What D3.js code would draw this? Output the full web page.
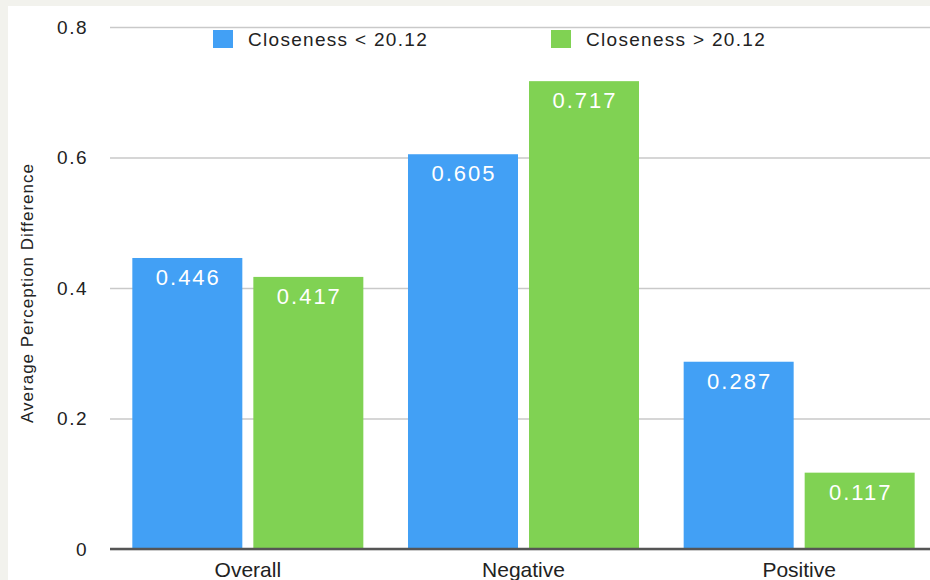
<!DOCTYPE html>
<html>
<head>
<meta charset="utf-8">
<script src="https://cdn.jsdelivr.net/npm/d3@7"></script>
<style>
  html, body { margin: 0; padding: 0; background: #f2f2ed; }
  svg { display: block; }
  text { font-family: "Liberation Sans", Arial, Helvetica, sans-serif; }
</style>
</head>
<body>
<script>
// Chart data
const categories = ["Overall", "Negative", "Positive"];
const seriesNames = ["Closeness < 20.12", "Closeness > 20.12"];
const lowCloseness = [0.446, 0.605, 0.287];
const highCloseness = [0.417, 0.717, 0.117];
const yTicks = [0, 0.2, 0.4, 0.6, 0.8];
const yTitle = "Average Perception Difference";

const colors = ["#42a0f5", "#80d253"];
const W = 930, H = 580;

const svg = d3.select("body").append("svg")
  .attr("width", W).attr("height", H);

// white panel
svg.append("rect").attr("x", 8).attr("y", 6)
  .attr("width", W - 8).attr("height", H - 6).attr("fill", "#ffffff");

const y = d3.scaleLinear().domain([0, 0.8]).range([549, 27]);
const x0 = d3.scaleBand().domain(categories).range([110, 937])
  .paddingInner(0.162).paddingOuter(0.081);
const x1 = d3.scaleBand().domain(seriesNames).range([0, x0.bandwidth()])
  .paddingInner(0.091);

// gridlines and tick labels
const yAxis = d3.axisLeft(y).tickValues(yTicks)
  .tickSize(-(W - 110))
  .tickFormat(d => d === 0 ? "0" : d3.format(".1f")(d));
const gy = svg.append("g").attr("transform", "translate(110,0)").call(yAxis);
gy.select(".domain").remove();
gy.selectAll(".tick line").attr("stroke", "#c9c9c9").attr("stroke-width", 1.5);
gy.selectAll(".tick text").attr("x", -22).attr("fill", "#222")
  .style("font-size", "19px").style("letter-spacing", "1.5px");

// y-axis title
svg.append("text")
  .attr("transform", `translate(33,${(27 + 549) / 2 + 5}) rotate(-90)`)
  .attr("text-anchor", "middle").attr("fill", "#222")
  .style("font-size", "17px").style("letter-spacing", "1px").text(yTitle);

const rows = categories.map((c, i) => ({
  cat: c,
  vals: [lowCloseness[i], highCloseness[i]]
}));

const groups = svg.append("g").selectAll("g").data(rows).join("g")
  .attr("transform", d => `translate(${x0(d.cat)},0)`);

const cells = d => d.vals.map((v, j) => ({ v, s: seriesNames[j], j }));

groups.selectAll("rect").data(cells).join("rect")
  .attr("x", d => x1(d.s))
  .attr("y", d => y(d.v))
  .attr("width", x1.bandwidth())
  .attr("height", d => y(0) - y(d.v))
  .attr("fill", d => colors[d.j]);

groups.selectAll("text.val").data(cells).join("text").attr("class", "val")
  .attr("x", d => x1(d.s) + x1.bandwidth() / 2 + 1)
  .attr("y", d => y(d.v) + 27)
  .attr("text-anchor", "middle").attr("fill", "#ffffff")
  .style("font-size", "22px").style("letter-spacing", "2px")
  .text(d => d3.format(".3f")(d.v));

// baseline
svg.append("line").attr("x1", 110).attr("x2", W)
  .attr("y1", y(0)).attr("y2", y(0))
  .attr("stroke", "#555").attr("stroke-width", 2.5);

// category labels
svg.append("g").selectAll("text").data(categories).join("text")
  .attr("x", d => x0(d) + x0.bandwidth() / 2)
  .attr("y", 577)
  .attr("text-anchor", "middle").attr("fill", "#222")
  .style("font-size", "21px").text(d => d);

// legend
const legendX = [213, 551];
const lg = svg.append("g").selectAll("g").data(seriesNames).join("g")
  .attr("transform", (d, i) => `translate(${legendX[i]},30)`);
lg.append("rect").attr("width", 20).attr("height", 18)
  .attr("fill", (d, i) => colors[i]);
lg.append("text").attr("x", 35).attr("y", 16)
  .attr("fill", "#222").style("font-size", "19px")
  .style("letter-spacing", "1.3px").text(d => d);
</script>
</body>
</html>
